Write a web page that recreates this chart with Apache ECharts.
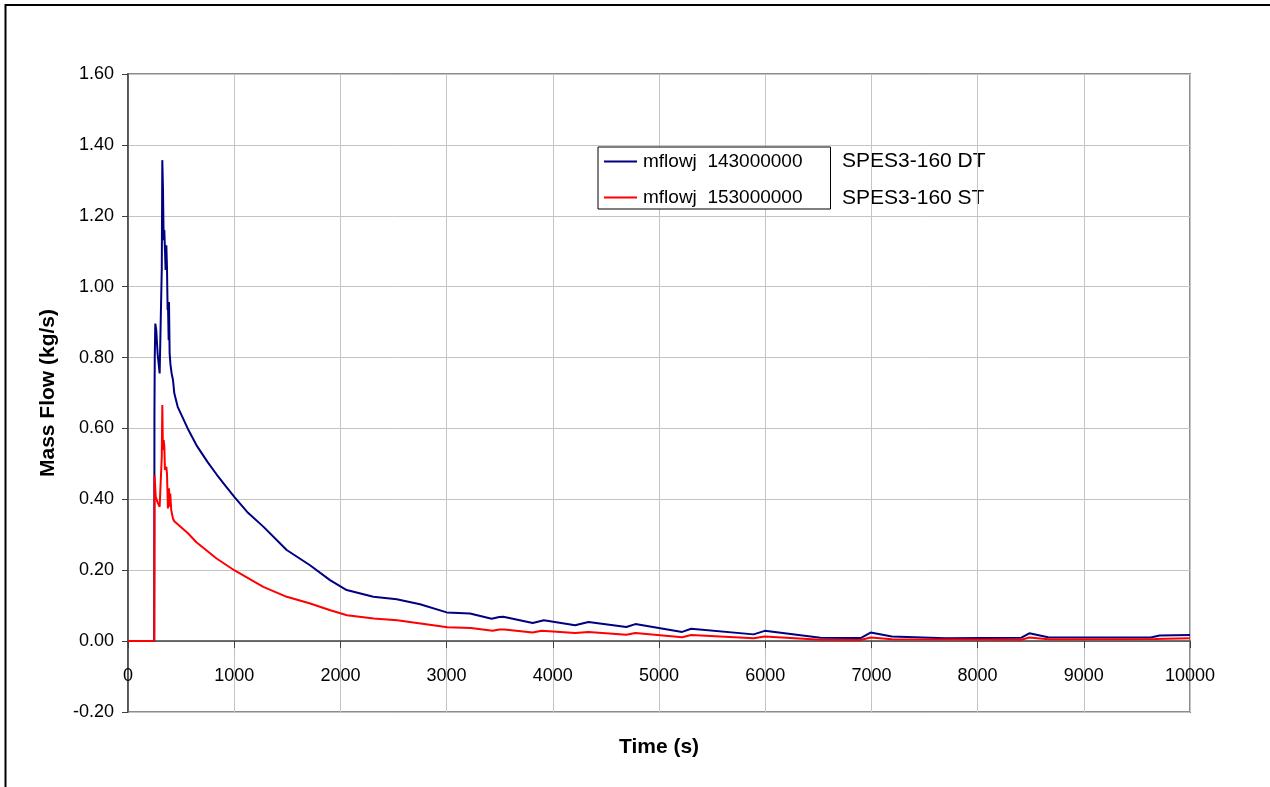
<!DOCTYPE html>
<html>
<head>
<meta charset="utf-8">
<script src="https://cdn.jsdelivr.net/npm/echarts@6/dist/echarts.min.js"></script>
<style>
  html, body { margin: 0; padding: 0; background: #fff; }
  #chart { width: 1270px; height: 787px; }
</style>
</head>
<body>
<div id="chart"></div>
<script>
// SPES3-160 junction mass flow, DT and ST lines
const seriesNames = ['mflowj  143000000', 'mflowj  153000000'];
const seriesNotes = ['SPES3-160 DT', 'SPES3-160 ST'];

// DT line (junction 143000000): time [s], mass flow [kg/s]
const dtTime = [0, 247, 249, 252, 257, 266, 279, 298, 310, 318, 323, 329, 336, 342, 348, 354, 361, 367, 373, 376, 383, 386, 392, 400, 411, 424, 436, 468, 562, 650, 750, 835, 920, 1003, 1130, 1274, 1494, 1714, 1902, 2059, 2310, 2530, 2750, 3001, 3220, 3424, 3496, 3534, 3811, 3916, 4210, 4336, 4693, 4777, 5218, 5303, 5891, 5996, 6521, 6899, 6992, 7193, 7697, 8412, 8487, 8664, 9630, 9714, 10000];
const dtFlow = [0, 0, 0.64, 0.80, 0.896, 0.878, 0.81, 0.755, 0.755, 1.05, 1.357, 1.282, 1.131, 1.16, 1.103, 1.047, 1.117, 1.056, 0.934, 0.957, 0.849, 0.957, 0.812, 0.78, 0.755, 0.736, 0.699, 0.661, 0.600, 0.550, 0.505, 0.470, 0.437, 0.406, 0.362, 0.323, 0.257, 0.214, 0.172, 0.144, 0.125, 0.118, 0.104, 0.081, 0.078, 0.063, 0.068, 0.069, 0.051, 0.059, 0.045, 0.054, 0.040, 0.048, 0.026, 0.035, 0.019, 0.029, 0.0095, 0.0086, 0.024, 0.013, 0.008, 0.0095, 0.022, 0.011, 0.010, 0.016, 0.017];

// ST line (junction 153000000): time [s], mass flow [kg/s]
const stTime = [0, 247, 250, 261, 280, 298, 310, 318, 323, 329, 336, 342, 348, 361, 367, 376, 386, 392, 398, 407, 424, 436, 562, 644, 834, 1000, 1192, 1274, 1495, 1716, 1905, 2062, 2314, 2535, 2755, 3008, 3228, 3433, 3496, 3543, 3811, 3895, 4210, 4336, 4693, 4777, 5218, 5303, 5891, 5996, 6521, 6899, 6992, 7193, 8412, 8487, 8664, 9672, 10000];
const stFlow = [0, 0, 0.468, 0.407, 0.39, 0.379, 0.379, 0.52, 0.666, 0.539, 0.567, 0.55, 0.483, 0.492, 0.473, 0.374, 0.431, 0.379, 0.416, 0.370, 0.345, 0.338, 0.305, 0.279, 0.233, 0.200, 0.167, 0.153, 0.125, 0.106, 0.087, 0.073, 0.064, 0.059, 0.050, 0.039, 0.037, 0.029, 0.033, 0.033, 0.024, 0.029, 0.023, 0.026, 0.018, 0.023, 0.011, 0.017, 0.008, 0.013, 0.004, 0.003, 0.010, 0.005, 0.004, 0.010, 0.005, 0.006, 0.008];

// Axis ticks
const xTicks = [0, 1000, 2000, 3000, 4000, 5000, 6000, 7000, 8000, 9000, 10000];
const yTicks = [-0.2, 0, 0.2, 0.4, 0.6, 0.8, 1.0, 1.2, 1.4, 1.6];

const toPairs = (xs, ys) => xs.map((x, i) => [x, ys[i]]);

const FONT = '"Liberation Sans", Arial, sans-serif';
const GRID = { left: 128, top: 74, width: 1062, height: 638 };
const yMin = yTicks[0], yMax = yTicks[yTicks.length - 1];
// the time axis sits on the zero flow line, above the bottom edge of the plot
const zeroOffset = -GRID.height * (0 - yMin) / (yMax - yMin);

const chart = echarts.init(document.getElementById('chart'), null, { renderer: 'canvas' });

chart.setOption({
  animation: false,
  backgroundColor: '#fff',
  textStyle: { fontFamily: FONT },
  grid: Object.assign({}, GRID, {
    containLabel: false, outerBoundsMode: 'none',
    show: true, borderColor: '#8c8c8c', borderWidth: 2, backgroundColor: 'transparent'
  }),
  legend: {
    orient: 'vertical',
    left: 598, top: 147,
    padding: [5, 28, 2, 6],
    itemGap: 17,
    itemWidth: 33, itemHeight: 2,
    icon: 'rect',
    borderColor: '#000', borderWidth: 1,
    backgroundColor: '#fff',
    textStyle: { fontFamily: FONT, fontSize: 19, color: '#000', padding: [0, 0, 0, 1] },
    data: seriesNames
  },
  xAxis: {
    type: 'value',
    min: xTicks[0], max: xTicks[xTicks.length - 1], interval: 1000,
    offset: zeroOffset,
    name: 'Time (s)', nameLocation: 'middle', nameGap: 96,
    nameTextStyle: { fontFamily: FONT, fontSize: 21, fontWeight: 'bold', color: '#000' },
    axisLine: { onZero: false, lineStyle: { color: '#404040', width: 1.5 } },
    axisTick: { show: true, length: 7, lineStyle: { color: '#404040' } },
    axisLabel: { margin: 26, fontSize: 18, color: '#000', fontFamily: FONT,
      formatter: v => String(v) },
    splitLine: { show: true, lineStyle: { color: '#c4c4c4', width: 1 } }
  },
  yAxis: {
    type: 'value',
    min: yMin, max: yMax, interval: 0.2,
    name: 'Mass Flow (kg/s)', nameLocation: 'middle', nameGap: 69,
    nameTextStyle: { fontFamily: FONT, fontSize: 21, fontWeight: 'bold', color: '#000' },
    axisLine: { show: true, onZero: false, lineStyle: { color: '#404040', width: 1.5 } },
    axisTick: { show: true, length: 6, lineStyle: { color: '#404040' } },
    axisLabel: { margin: 14, fontSize: 18, color: '#000', fontFamily: FONT,
      formatter: v => v.toFixed(2) },
    splitLine: { show: true, lineStyle: { color: '#c4c4c4', width: 1 } }
  },
  series: [
    {
      name: seriesNames[0], type: 'line', data: toPairs(dtTime, dtFlow),
      showSymbol: false, symbol: 'none', color: '#000080',
      lineStyle: { color: '#000080', width: 2 }, z: 3
    },
    {
      name: seriesNames[1], type: 'line', data: toPairs(stTime, stFlow),
      showSymbol: false, symbol: 'none', color: '#ff0000',
      lineStyle: { color: '#ff0000', width: 2 }, z: 4
    }
  ],
  graphic: [
    { type: 'text', left: 842, top: 151,
      style: { text: seriesNotes[0], font: '21px ' + FONT, fill: '#000' } },
    { type: 'text', left: 842, top: 188,
      style: { text: seriesNotes[1], font: '21px ' + FONT, fill: '#000' } },
    // page frame (top and left edges)
    { type: 'line', shape: { x1: 5, y1: 5, x2: 1270, y2: 5 }, style: { stroke: '#000', lineWidth: 2 } },
    { type: 'line', shape: { x1: 5.5, y1: 4, x2: 5.5, y2: 787 }, style: { stroke: '#000', lineWidth: 2 } }
  ]
});
</script>
</body>
</html>
